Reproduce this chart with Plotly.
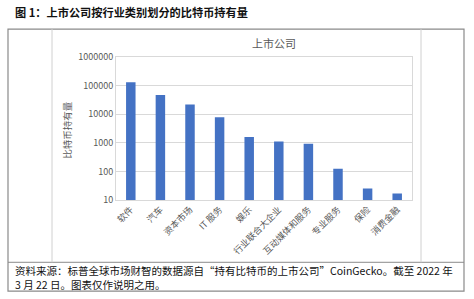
import plotly.graph_objects as go

categories = ["软件", "汽车", "资本市场", "IT 服务", "娱乐", "行业联合大企业",
              "互动媒体和服务", "专业服务", "保险", "消费金融"]
holdings = [130000, 47000, 22000, 7800, 1600, 1100, 920, 125, 25, 17]
tick_vals = [10, 100, 1000, 10000, 100000, 1000000]
tick_text = ["10", "100", "1000", "10000", "100000", "1000000"]

W, H = 474, 299
L, R, T, B = 116, 412, 57, 200.5
FONT = "Noto Sans CJK SC"


def px(x):
    return (x - L) / (R - L)


def py(y):
    return (B - y) / (B - T)


fig = go.Figure()
fig.add_trace(go.Bar(x=categories, y=holdings, marker_color="#4472C4",
                     marker_line_width=0))

shapes = []
line_col = "#8a8a8a"
inner_col = "#d0d0d0"
# outer box
shapes.append(dict(type="rect", xref="paper", yref="paper",
                   x0=px(8), x1=px(464), y0=py(292), y1=py(29),
                   line=dict(color=line_col, width=1.2), layer="below"))
# footer separator
shapes.append(dict(type="line", xref="paper", yref="paper",
                   x0=px(8), x1=px(464), y0=py(263), y1=py(263),
                   line=dict(color=line_col, width=1)))
# inner chart box verticals
for xx in (52, 421):
    shapes.append(dict(type="line", xref="paper", yref="paper",
                       x0=px(xx), x1=px(xx), y0=py(263), y1=py(29),
                       line=dict(color=inner_col, width=1)))

annotations = [
    dict(text="<b>图 1：上市公司按行业类别划分的比特币持有量</b>", xref="paper", yref="paper",
         x=px(13), y=py(12), xanchor="left", yanchor="middle", showarrow=False,
         font=dict(family=FONT, size=11.2, color="#111111")),
    dict(text="上市公司", xref="paper", yref="paper",
         x=px(274), y=py(43), xanchor="center", yanchor="middle", showarrow=False,
         font=dict(family=FONT, size=11, color="#595959")),
    dict(text="比特币持有量", xref="paper", yref="paper", textangle=-90,
         x=px(67), y=py(130), xanchor="center", yanchor="middle", showarrow=False,
         font=dict(family=FONT, size=9.5, color="#595959")),
    dict(text="资料来源：标普全球市场财智的数据源自“持有比特币的上市公司”CoinGecko。截至 2022 年",
         xref="paper", yref="paper",
         x=px(13), y=py(271.5), xanchor="left", yanchor="middle", showarrow=False,
         font=dict(family=FONT, size=10.5, color="#111111")),
    dict(text="3 月 22 日。图表仅作说明之用。",
         xref="paper", yref="paper",
         x=px(13), y=py(285.5), xanchor="left", yanchor="middle", showarrow=False,
         font=dict(family=FONT, size=10.5, color="#111111")),
]

fig.update_layout(
    width=W, height=H,
    margin=dict(l=L, r=W - R, t=T, b=H - B),
    paper_bgcolor="white", plot_bgcolor="white",
    showlegend=False,
    bargap=0.68,
    shapes=shapes,
    annotations=annotations,
    font=dict(family=FONT, color="#595959"),
)
fig.update_xaxes(showline=True, linecolor="#d9d9d9", mirror=True, tickangle=-45,
                 tickfont=dict(size=9, color="#595959"), ticks="", showgrid=False)
fig.update_yaxes(type="log", range=[1, 6], tickvals=tick_vals, ticktext=tick_text,
                 showgrid=True, gridcolor="#d9d9d9", showline=True, linecolor="#d9d9d9",
                 mirror=True, ticks="", tickfont=dict(size=9, color="#595959"),
                 zeroline=False)

fig.write_html("out.html")
